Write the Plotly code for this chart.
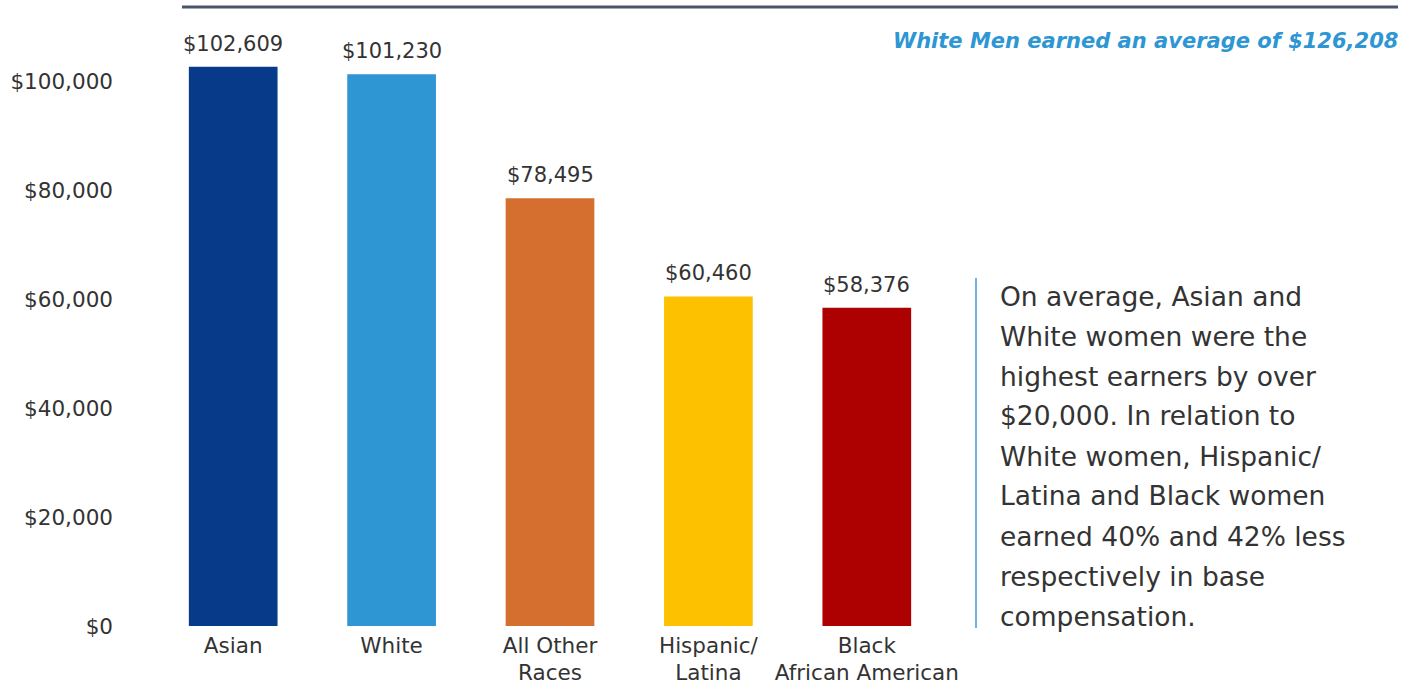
import plotly.graph_objects as go

# Average base compensation of women by race
categories = ["Asian", "White", "All Other<br>Races", "Hispanic/<br>Latina", "Black<br>African American"]
earnings = [102609, 101230, 78495, 60460, 58376]
bar_colors = ["#083a8a", "#2e96d3", "#d56f30", "#fdc100", "#ad0000"]
y_ticks = [0, 20000, 40000, 60000, 80000, 100000]
y_tick_labels = ["$0", "$20,000", "$40,000", "$60,000", "$80,000", "$100,000"]

callout = "White Men earned an average of $126,208"
note_lines = [
    "On average, Asian and",
    "White women were the",
    "highest earners by over",
    "$20,000. In relation to",
    "White women, Hispanic/",
    "Latina and Black women",
    "earned 40% and 42% less",
    "respectively in base",
    "compensation.",
]

FONT = "DejaVu Sans"
TEXT = "#333333"

# pixel geometry of the plotting area
L, T, B = 154, 8, 58
PW, PH = 792, 684 - T - B
PX_PER_1000 = 5.45


def px(x):
    return (x - L) / PW


def py(y):
    return (684 - B - y) / PH


fig = go.Figure(
    go.Bar(
        x=categories,
        y=earnings,
        marker=dict(color=bar_colors, line=dict(width=0)),
        width=0.56,
        cliponaxis=False,
    )
)

# value labels above each bar
for cat, val in zip(categories, earnings):
    fig.add_annotation(
        x=cat, y=val, text=f"${val:,.0f}",
        xanchor="center", yanchor="bottom", yshift=9,
        showarrow=False,
        font=dict(family=FONT, size=21, color=TEXT),
    )

fig.update_layout(
    width=1417,
    height=684,
    margin=dict(l=L, r=1417 - L - PW, t=T, b=B),
    paper_bgcolor="white",
    plot_bgcolor="white",
    showlegend=False,
    font=dict(family=FONT, color=TEXT),
    xaxis=dict(
        type="category",
        range=[-0.5, 4.5],
        automargin=False,
        showgrid=False,
        showline=False,
        ticks="",
        ticklabelstandoff=4,
        tickfont=dict(family=FONT, size=21.5, color=TEXT),
    ),
    yaxis=dict(
        range=[0, 1000 * PH / PX_PER_1000],
        automargin=False,
        tickvals=y_ticks,
        ticktext=y_tick_labels,
        showgrid=False,
        zeroline=False,
        showline=False,
        ticks="",
        ticklabelstandoff=40,
        tickfont=dict(family=FONT, size=21.5, color=TEXT),
    ),
)

# rule along the top
fig.add_shape(
    type="line", xref="paper", yref="paper",
    x0=px(182), x1=px(1398), y0=py(7), y1=py(7),
    line=dict(color="#4b5668", width=3),
)

fig.add_annotation(
    text=f"<b><i>{callout}</i></b>",
    xref="paper", yref="paper",
    x=px(1400), y=py(41),
    xanchor="right", yanchor="middle",
    showarrow=False,
    font=dict(family=FONT, size=21, color="#2e96d3"),
)

# side note with a thin blue rule on its left
fig.add_shape(
    type="line", xref="paper", yref="paper",
    x0=px(976), x1=px(976), y0=py(628), y1=py(278),
    line=dict(color="#3a9ad9", width=1.5),
)
for i, line in enumerate(note_lines):
    fig.add_annotation(
        text=line,
        xref="paper", yref="paper",
        x=px(998), y=py(296 + 40 * i),
        xanchor="left", yanchor="middle",
        showarrow=False,
        font=dict(family=FONT, size=26.5, color=TEXT),
    )

fig.write_html("out.html")
